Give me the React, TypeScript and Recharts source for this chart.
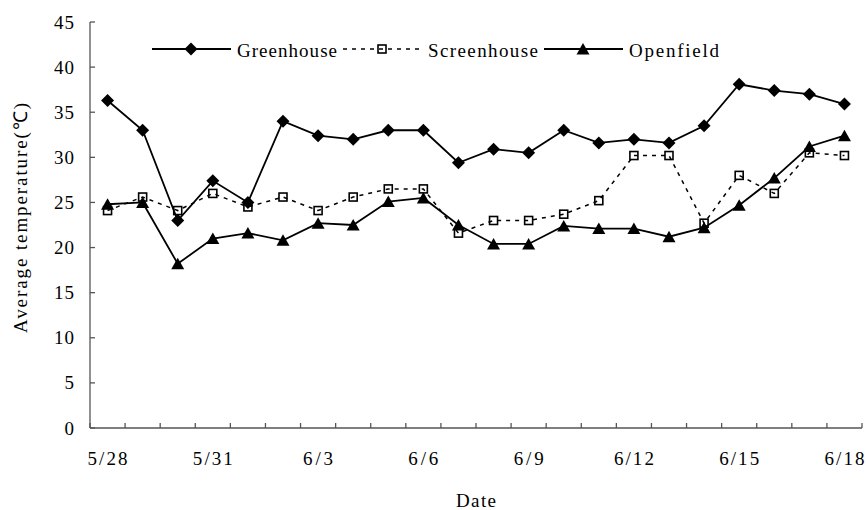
import { LineChart, Line, XAxis, YAxis, Legend } from "recharts";

const dates = [
  "5/28", "5/29", "5/30", "5/31", "6/1", "6/2", "6/3", "6/4", "6/5", "6/6", "6/7",
  "6/8", "6/9", "6/10", "6/11", "6/12", "6/13", "6/14", "6/15", "6/16", "6/17", "6/18",
];
const greenhouse = [
  36.3, 33.0, 23.0, 27.4, 25.0, 34.0, 32.4, 32.0, 33.0, 33.0, 29.4,
  30.9, 30.5, 33.0, 31.6, 32.0, 31.6, 33.5, 38.1, 37.4, 37.0, 35.9,
];
const screenhouse = [
  24.1, 25.6, 24.1, 26.0, 24.5, 25.6, 24.1, 25.6, 26.5, 26.5, 21.6,
  23.0, 23.0, 23.7, 25.2, 30.2, 30.2, 22.7, 28.0, 26.0, 30.5, 30.2,
];
const openfield = [
  24.8, 25.0, 18.2, 21.0, 21.6, 20.8, 22.7, 22.5, 25.1, 25.5, 22.5,
  20.4, 20.4, 22.4, 22.1, 22.1, 21.2, 22.2, 24.7, 27.7, 31.2, 32.4,
];
const yTicks = [0, 5, 10, 15, 20, 25, 30, 35, 40, 45];
const seriesNames = ["Greenhouse", "Screenhouse", "Openfield"];

const data = dates.map((d, i) => ({
  pos: i + 0.5,
  date: d,
  greenhouse: greenhouse[i],
  screenhouse: screenhouse[i],
  openfield: openfield[i],
}));

// tick marks sit between categories, labels on every third category
const boundaryTicks = dates.map((_, i) => i).concat([dates.length]);
const labelTicks = dates.map((_, i) => i).filter((i) => i % 3 === 0).map((i) => i + 0.5);
const xTicks = [...boundaryTicks, ...labelTicks].sort((a, b) => a - b);

const FONT = "Liberation Serif, Times New Roman, serif";
const AXIS = "#555";

const halfWidths = (s: string) =>
  [...s].reduce((n, c) => n + (c.charCodeAt(0) > 255 ? 2 : 1), 0);

const MText = ({ x, y, text, anchor = "start", transform }: any) => {
  const n = halfWidths(text);
  return (
    <text
      x={x}
      y={y}
      textAnchor={anchor}
      style={{ fontFamily: FONT, fontSize: 19 }}
      fill="#000"
      textLength={n > 1 ? n * 10 : undefined}
      lengthAdjust="spacing"
      transform={transform}
    >
      {text}
    </text>
  );
};

const XTick = (props: any) => {
  const { x, y, payload } = props;
  const v = payload.value;
  if (Number.isInteger(v)) {
    return <line x1={x} x2={x} y1={y} y2={y - 5} stroke={AXIS} strokeWidth={1.3} />;
  }
  return <MText x={x} y={y + 37} text={dates[v - 0.5]} anchor="middle" />;
};

const YTick = (props: any) => {
  const { x, y, payload } = props;
  return (
    <g>
      <line x1={x} x2={x + 5} y1={y} y2={y} stroke={AXIS} strokeWidth={1.3} />
      <MText x={x - 16} y={y + 6.5} text={String(payload.value)} anchor="end" />
    </g>
  );
};

const Diamond = ({ cx, cy }: any) => (
  <polygon
    points={`${cx},${cy - 6.5} ${cx + 6.5},${cy} ${cx},${cy + 6.5} ${cx - 6.5},${cy}`}
    fill="#000"
  />
);
const Square = ({ cx, cy }: any) => (
  <rect x={cx - 4} y={cy - 4} width={8} height={8} fill="none" stroke="#000" strokeWidth={1.6} />
);
const Triangle = ({ cx, cy }: any) => (
  <polygon
    points={`${cx},${cy - 6} ${cx + 6.5},${cy + 5.5} ${cx - 6.5},${cy + 5.5}`}
    fill="#000"
  />
);

const markers = [Diamond, Square, Triangle];
const dashes = [undefined, "4 5", undefined];

const LegendBox = () => {
  let x = 152;
  const items = seriesNames.map((name, i) => {
    const Mark = markers[i];
    const x0 = x;
    const textX = x0 + 85;
    x = textX + halfWidths(name) * 10 + 6;
    return (
      <g key={name}>
        <line
          x1={x0}
          x2={x0 + 79}
          y1={49}
          y2={49}
          stroke="#000"
          strokeWidth={i === 1 ? 1.5 : 1.8}
          strokeDasharray={dashes[i]}
        />
        <Mark cx={x0 + 39} cy={49} />
        <MText x={textX} y={56.5} text={name} />
      </g>
    );
  });
  return (
    <svg width={866} height={70} style={{ display: "block" }}>
      {items}
    </svg>
  );
};

const App = () => {
  return (
    <div style={{ position: "absolute", left: 0, top: 0, background: "#fff" }}>
      <LineChart
        width={866}
        height={510}
        data={data}
        margin={{ top: 22, right: 4, left: 0, bottom: 0 }}
      >
        <XAxis
          dataKey="pos"
          type="number"
          domain={[0, dates.length]}
          ticks={xTicks}
          interval={0}
          tickSize={0}
          tickMargin={0}
          tickLine={false}
          tick={<XTick />}
          axisLine={{ stroke: AXIS, strokeWidth: 1.3 }}
          height={82}
          label={{
            content: (p: any) => {
              const vb = p.viewBox;
              return <MText x={vb.x + vb.width / 2} y={vb.y + 79} text="Date" anchor="middle" />;
            },
          }}
        />
        <YAxis
          type="number"
          domain={[0, 45]}
          ticks={yTicks}
          interval={0}
          width={90}
          tickSize={0}
          tickMargin={0}
          tickLine={false}
          tick={<YTick />}
          axisLine={{ stroke: AXIS, strokeWidth: 1.3 }}
          label={{
            content: (p: any) => {
              const vb = p.viewBox;
              const cy = vb.y + vb.height / 2 - 7;
              return (
                <MText
                  x={27}
                  y={cy}
                  text="Average temperature(℃)"
                  anchor="middle"
                  transform={`rotate(-90, 27, ${cy})`}
                />
              );
            },
          }}
        />
        <Legend
          layout="vertical"
          align="center"
          verticalAlign="middle"
          wrapperStyle={{ top: 0, left: 0, width: 866, height: 70 }}
          content={() => <LegendBox />}
        />
        <Line
          type="linear"
          dataKey="greenhouse"
          name={seriesNames[0]}
          stroke="#000"
          strokeWidth={1.8}
          dot={(p: any) => <Diamond key={p.index} cx={p.cx} cy={p.cy} />}
          activeDot={false}
          isAnimationActive={false}
        />
        <Line
          type="linear"
          dataKey="screenhouse"
          name={seriesNames[1]}
          stroke="#000"
          strokeWidth={1.5}
          strokeDasharray="4 5"
          dot={(p: any) => <Square key={p.index} cx={p.cx} cy={p.cy} />}
          activeDot={false}
          isAnimationActive={false}
        />
        <Line
          type="linear"
          dataKey="openfield"
          name={seriesNames[2]}
          stroke="#000"
          strokeWidth={1.8}
          dot={(p: any) => <Triangle key={p.index} cx={p.cx} cy={p.cy} />}
          activeDot={false}
          isAnimationActive={false}
        />
      </LineChart>
    </div>
  );
};

export default App;
